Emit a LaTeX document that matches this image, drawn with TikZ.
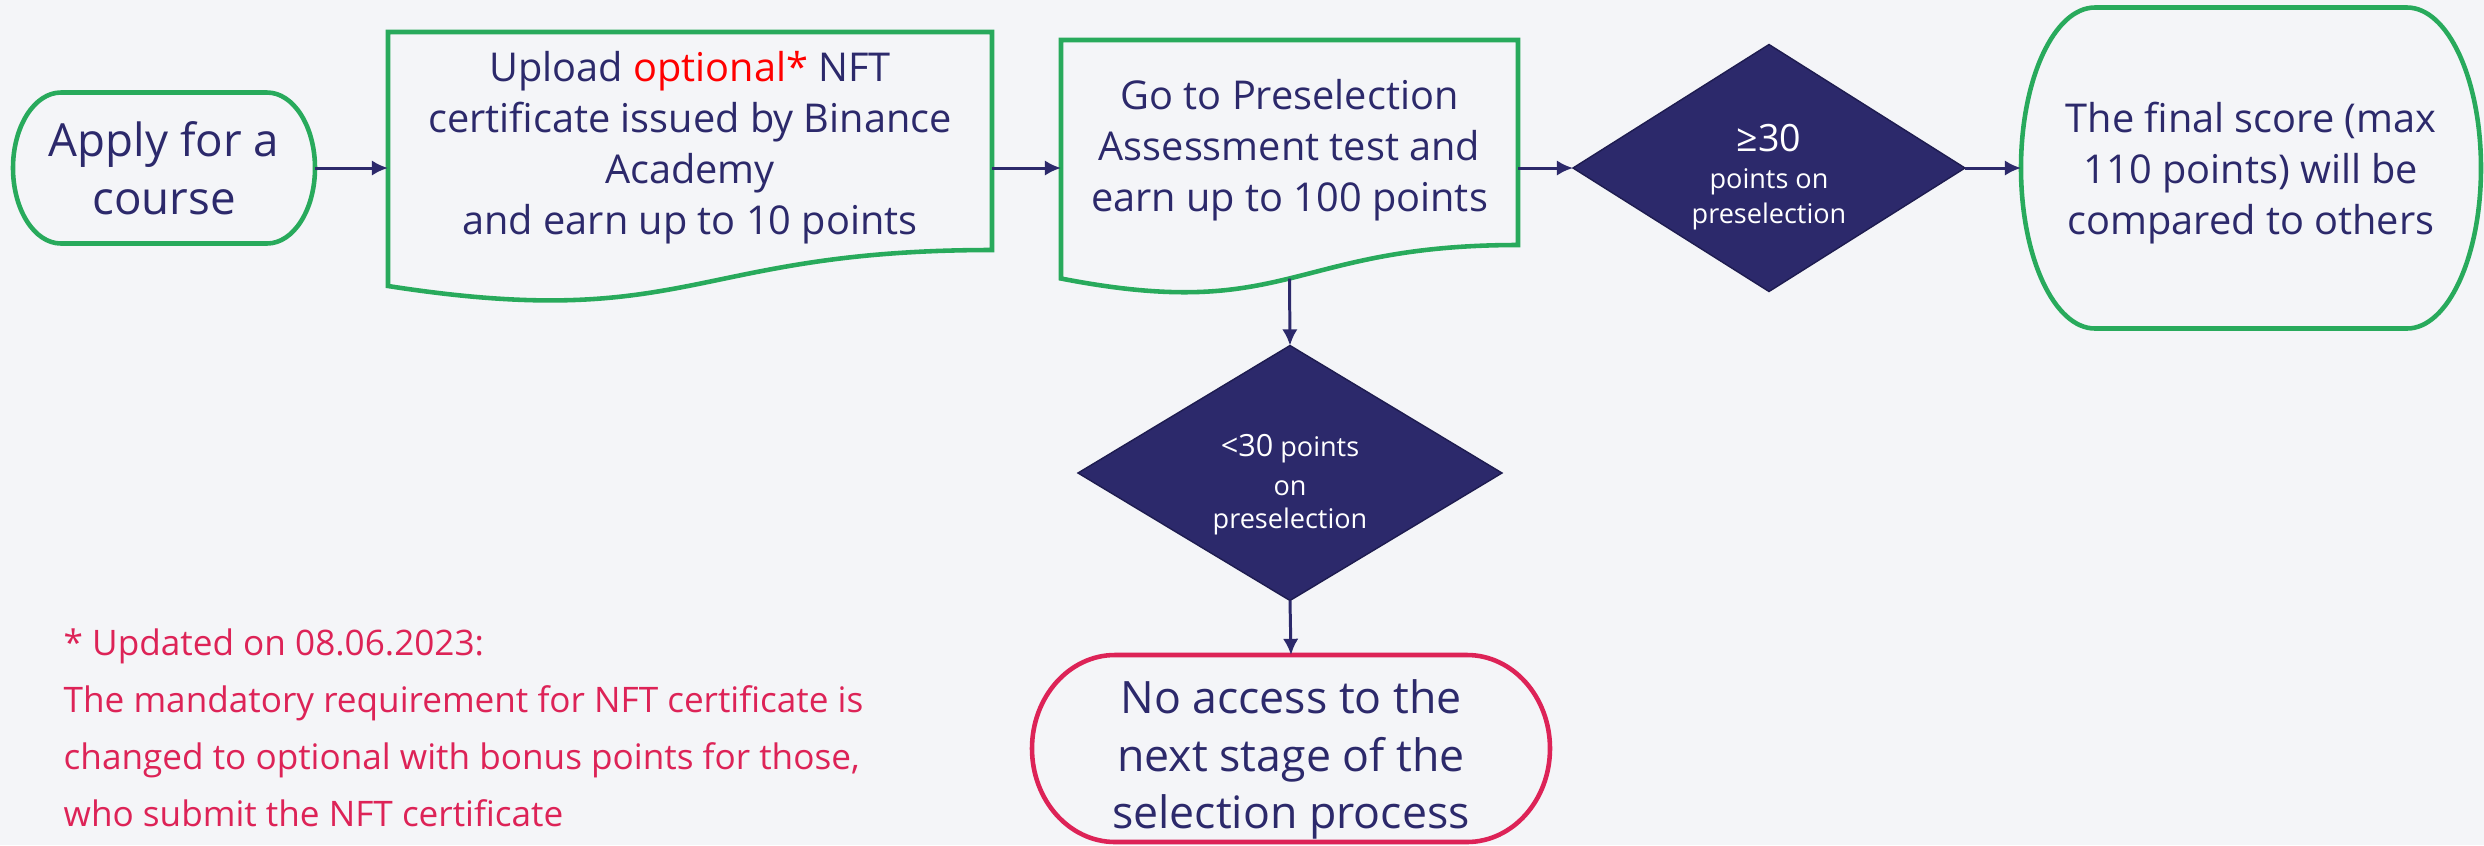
\documentclass[tikz,border=0pt]{standalone}
\usepackage{fontspec}
\setmainfont{Open Sans}
\usetikzlibrary{shapes.geometric,calc,arrows.meta}

\definecolor{navy}{RGB}{44,41,107}
\definecolor{navyedge}{RGB}{30,28,80}
\definecolor{leafgreen}{RGB}{40,170,92}
\definecolor{crimson}{RGB}{221,35,87}
\definecolor{paper}{RGB}{244,245,248}

\tikzset{
  holder/.style={inner sep=0, outer sep=0},
  boxtext/.style={font=\fontsize{11.3}{14.5}\selectfont, align=center, text=navy, inner sep=0},
  decision/.style={diamond, fill=navy, draw=navyedge, line width=0.4pt, inner sep=0, outer sep=0},
  choicetext/.style={font=\fontsize{7.7}{10}\selectfont, align=center, text=white, inner sep=0},
  flow/.style={-{Latex[length=4.6pt,width=4.4pt]}, line width=0.85pt, navy},
  frame/.style={line width=1.3pt},
}

% terminator outline round a node: node, x radius, colour
\newcommand{\termframe}[3]{%
  \draw[frame, #3] let \p1=(#1.north west), \p2=(#1.south east), \n1={(\y1-\y2)/2} in
    (\x1+#2,\y1) -- (\x2-#2,\y1) arc[start angle=90, end angle=-90, x radius=#2, y radius=\n1]
    -- (\x1+#2,\y2) arc[start angle=270, end angle=90, x radius=#2, y radius=\n1] -- cycle;}

% document outline round a node: node, drop at the left, dip of the wave
\newcommand{\docframe}[3]{%
  \draw[frame, leafgreen] (#1.south east) -- (#1.north east) -- (#1.north west)
    -- ($(#1.south west)+(0,-#2)$) .. controls ($(#1.south)+(0,-#3)$) and (#1.south) .. cycle;}

\begin{document}
\begin{tikzpicture}
\useasboundingbox (0,0) rectangle (24.84,-8.45);
\fill[paper] (0,0) rectangle (24.84,-8.45);

% top row
\node[holder, minimum width=3.02cm, minimum height=1.51cm,
  label={[boxtext, font=\fontsize{13}{16.5}\selectfont]center:{Apply for a\\course}}] (apply) at (1.64,-1.68) {};
\node[holder, minimum width=6.04cm, minimum height=2.18cm,
  label={[boxtext, yshift=-0.065cm]center:{Upload \textcolor{red}{optional*} NFT\\certificate issued by Binance\\Academy\\and earn up to 10 points}}] (upload) at (6.90,-1.41) {};
\node[holder, minimum width=4.57cm, minimum height=2.05cm,
  label={[boxtext, yshift=-0.08cm]center:{Go to Preselection\\Assessment test and\\earn up to 100 points}}] (go) at (12.895,-1.425) {};
\node[decision, minimum width=3.92cm, minimum height=2.47cm,
  label={[choicetext, yshift=-0.09cm]center:{{\fontsize{10.7}{12}\selectfont ≥30}\\[0.5pt]points on\\preselection}}] (pass) at (17.69,-1.68) {};
\node[holder, minimum width=4.60cm, minimum height=3.21cm,
  label={[boxtext, yshift=-0.05cm]center:{The final score (max\\110 points) will be\\compared to others}}] (final) at (22.51,-1.68) {};

% lower branch
\node[decision, minimum width=4.24cm, minimum height=2.55cm,
  label={[choicetext, yshift=-0.12cm]center:{{\fontsize{8.7}{10}\selectfont <30} points\\[1pt]on\\[-0.5pt]preselection}}] (fail) at (12.90,-4.73) {};
\node[holder, minimum width=5.18cm, minimum height=1.87cm,
  label={[boxtext, font=\fontsize{12.7}{16.4}\selectfont, yshift=-0.11cm]center:{No access to the\\next stage of the\\selection process}}] (noaccess) at (12.91,-7.485) {};

\node[anchor=west, align=left, inner sep=0, text=crimson, font=\fontsize{10}{16.2}\selectfont] (note) at (0.63,-7.28) {* Updated on 08.06.2023:\\The mandatory requirement for NFT certificate is\\changed to optional with bonus points for those,\\who submit the NFT certificate};

\termframe{apply}{0.48cm}{leafgreen}
\docframe{upload}{0.36}{0.83}
\docframe{go}{0.335}{0.78}
\termframe{final}{0.74cm}{leafgreen}
\termframe{noaccess}{0.83cm}{crimson}

\coordinate (goDip) at ($(go.south)+(0,-0.335)$);

\draw[flow] (apply.east) -- (apply.east -| upload.west);
\draw[flow] (upload.east |- pass) -- (go.west |- pass);
\draw[flow] (go.east |- pass) -- (pass.west);
\draw[flow] (pass.east) -- (final.west);
\draw[flow] (goDip) -- (fail.north);
\draw[flow] (fail.south) -- (noaccess.north);
\end{tikzpicture}
\end{document}
